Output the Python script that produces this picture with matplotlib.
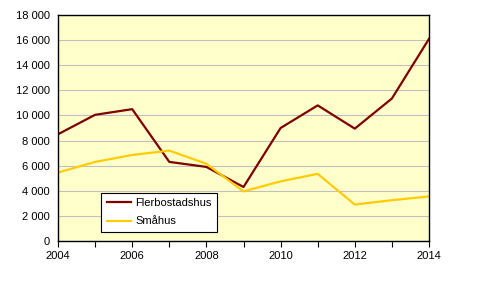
import matplotlib.pyplot as plt
from matplotlib.ticker import FuncFormatter, MultipleLocator

years = [2004, 2005, 2006, 2007, 2008, 2009, 2010, 2011, 2012, 2013, 2014]
flerbostadshus = [8500, 10050, 10500, 6300, 5900, 4300, 9000, 10800, 8950, 11350, 16100]
smahus = [5450, 6300, 6850, 7200, 6150, 3950, 4750, 5350, 2900, 3250, 3550]

plt.rcParams['font.family'] = ['Liberation Sans', 'DejaVu Sans']

fig = plt.figure(figsize=(4.8, 2.82), dpi=100)
ax = fig.add_axes([58 / 480, 1 - 241 / 282, 371 / 480, 226 / 282])
ax.set_facecolor('#FFFFCC')

ax.plot(years, flerbostadshus, color='#800000', lw=1.6, label='Flerbostadshus')
ax.plot(years, smahus, color='#FFCC00', lw=1.6, label='Småhus')

ax.set_xlim(2004, 2014)
ax.set_ylim(0, 18000)
ax.xaxis.set_major_locator(MultipleLocator(2))
ax.xaxis.set_minor_locator(MultipleLocator(1))
ax.yaxis.set_major_locator(MultipleLocator(2000))
ax.yaxis.set_major_formatter(FuncFormatter(lambda v, p: f'{int(v):,}'.replace(',', ' ')))

ax.grid(axis='y', color='#C0C0C0', lw=0.8)
ax.set_axisbelow(True)
for s in ax.spines.values():
    s.set_color('black')
    s.set_linewidth(1.0)

ax.tick_params(axis='x', which='both', direction='out', length=4, width=0.8,
               labelsize=8, pad=3)
ax.tick_params(axis='y', length=0, labelsize=8, pad=6)

leg = ax.legend(loc='lower left', bbox_to_anchor=(43 / 371, 9 / 226), fontsize=8,
                frameon=True, fancybox=False, edgecolor='black', framealpha=1,
                facecolor='white', handlelength=2.2, handletextpad=0.4,
                borderpad=0.5, labelspacing=0.75, borderaxespad=0)
leg.get_frame().set_linewidth(0.8)

fig.savefig('out.png', dpi=100)
